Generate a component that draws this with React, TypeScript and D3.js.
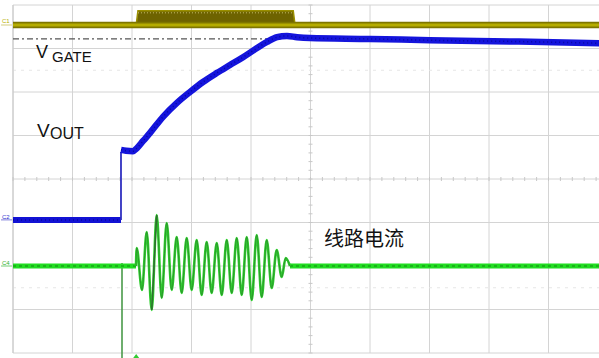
import React from 'react';
import * as d3 from 'd3';

const W = 599;
const H = 358;

// grid: 10 x 8 divisions (screen cut on the right)
const xDivs = [0, 1, 2, 3, 4, 5, 6, 7, 8, 9];
const yDivs = [-4, -3, -2, -1, 0, 1, 2, 3, 4];
const dottedLevels = [2.5, -2.5];

// C1 gate drive (divisions)
const c1Times = [0, 10];
const c1Level = [3.54, 3.54];
const burstTimes = [2.07, 2.1, 4.71, 4.74];
const burstTop = [3.54, 3.87, 3.87, 3.54];
const gateRefTimes = [0, 4.5];
const gateRefLevel = [3.22, 3.22];

// C2 VOUT
const voutBaseTimes = [0, 1.815];
const voutBaseLevel = [-0.94, -0.94];
const voutJumpTimes = [1.815, 1.815];
const voutJumpLevel = [-0.94, 0.62];
const voutRampTimes = [1.815, 1.9, 2.017, 2.084, 2.19, 2.303, 2.521, 2.756, 2.975, 3.193, 3.429, 3.647, 3.866, 4.101, 4.269, 4.437, 4.605, 4.773, 4.992, 6.0, 7.008, 8.5, 9.9];
const voutRampLevel = [0.67, 0.65, 0.64, 0.71, 0.88, 1.06, 1.43, 1.75, 2.0, 2.23, 2.44, 2.62, 2.8, 3.01, 3.15, 3.26, 3.29, 3.26, 3.24, 3.22, 3.19, 3.16, 3.12];

// C4 line current
const iBaseLeftTimes = [0, 2.067];
const iBaseRightTimes = [4.655, 10];
const iBaseLevel = [-2.0, -2.0];
const iOscTimes = [2.067, 2.079, 2.168, 2.247, 2.331, 2.415, 2.499, 2.583, 2.667, 2.751, 2.835, 2.919, 3.003, 3.087, 3.171, 3.255, 3.339, 3.424, 3.508, 3.592, 3.676, 3.76, 3.844, 3.928, 4.012, 4.096, 4.18, 4.264, 4.348, 4.432, 4.516, 4.583, 4.655];
const iOscLevel = [-2.0, -1.586, -2.552, -1.218, -3.011, -0.828, -2.736, -1.011, -2.552, -1.333, -2.621, -1.356, -2.552, -1.402, -2.667, -1.448, -2.621, -1.471, -2.667, -1.402, -2.621, -1.356, -2.667, -1.333, -2.782, -1.287, -2.713, -1.402, -2.506, -1.632, -2.253, -1.816, -2.0];
const iSpikeTimes = [1.832, 1.832];
const iSpikeLevel = [-1.93, -4.15];
const darkSpikeTimes = [2.331, 2.415];
const darkSpikeLevel = [-3.011, -0.828];

const x = d3.scaleLinear().domain([0, 10]).range([13, 608]);
const y = d3.scaleLinear().domain([-4, 4]).range([353, 5]);

const line = (ts: number[], vs: number[], curve: d3.CurveFactory = d3.curveLinear) =>
  d3.line<number>().x((_, i) => x(ts[i])).y((v) => y(v)).curve(curve)(vs) || '';

export default function App() {
  const burstArea =
    d3
      .area<number>()
      .x((_, i) => x(burstTimes[i]))
      .y0(y(3.54))
      .y1((v) => y(v))(burstTop) || '';

  const minorX = d3.range(0, 10.01, 0.2);
  const minorY = d3.range(-4, 4.01, 0.2);

  return (
    <div style={{ position: 'absolute', left: 0, top: 0 }}>
      <svg width={W} height={H} style={{ display: 'block', background: '#fff' }}>
        <rect x={0} y={0} width={W} height={H} fill="#fff" />
        {/* grid */}
        <g stroke="#d4d4d4" strokeWidth={1}>
          {xDivs.map((d) => (
            <line key={'gx' + d} x1={x(d)} x2={x(d)} y1={y(4)} y2={y(-4)} />
          ))}
          {yDivs.map((d) => (
            <line key={'gy' + d} x1={x(0)} x2={W} y1={y(d)} y2={y(d)} />
          ))}
        </g>
        <g stroke="#e6e6e6" strokeWidth={1} strokeDasharray="3 5">
          {dottedLevels.map((d) => (
            <line key={'dl' + d} x1={x(0)} x2={W} y1={y(d)} y2={y(d)} />
          ))}
        </g>
        <g stroke="#c8c8c8" strokeWidth={1}>
          {minorX.map((d, i) => (
            <line key={'mx' + i} x1={x(d)} x2={x(d)} y1={y(0) - 2} y2={y(0) + 2} />
          ))}
          {minorY.map((d, i) => (
            <line key={'my' + i} x1={x(5) - 2} x2={x(5) + 2} y1={y(d)} y2={y(d)} />
          ))}
        </g>
        <line x1={x(0)} x2={x(0)} y1={y(4)} y2={y(-4)} stroke="#c8c8c8" />

        {/* C1 gate */}
        <path d={burstArea} fill="#6e6300" stroke="#9a8f00" strokeWidth={1.5} />
        <path d={line([burstTimes[1], burstTimes[2]], [burstTop[1] - 0.05, burstTop[2] - 0.05])} stroke="#c9c070" strokeWidth={1} strokeDasharray="1 2" fill="none" />
        <path d={line(c1Times, c1Level)} stroke="#7e7600" strokeWidth={6.5} fill="none" />
        <path d={line(c1Times, c1Level)} stroke="#b5ac00" strokeWidth={3.2} fill="none" />

        {/* dash-dot reference */}
        <path d={line(gateRefTimes, gateRefLevel)} stroke="#555" strokeWidth={1.2} strokeDasharray="6 3 2 3" fill="none" />

        {/* VOUT */}
        <path d={line(voutBaseTimes, voutBaseLevel)} stroke="#1212d4" strokeWidth={6} fill="none" />
        <path d={line(voutJumpTimes, voutJumpLevel)} stroke="#3030c0" strokeWidth={1.8} fill="none" />
        <path d={line(voutRampTimes, voutRampLevel, d3.curveMonotoneX)} stroke="#1414dc" strokeWidth={6.5} fill="none" strokeLinejoin="round" />
        <path d={line(voutRampTimes, voutRampLevel, d3.curveMonotoneX)} stroke="#0808a0" strokeWidth={1.5} strokeDasharray="1 3" fill="none" />
        <path d={line(voutBaseTimes, voutBaseLevel)} stroke="#0808a0" strokeWidth={1.5} strokeDasharray="1 3" fill="none" />

        {/* line current */}
        <path d={line(iSpikeTimes, iSpikeLevel)} stroke="#4a9a4a" strokeWidth={1.6} fill="none" />
        <path d={line(iBaseLeftTimes, iBaseLevel)} stroke="#22dd22" strokeWidth={5} fill="none" />
        <path d={line(iBaseRightTimes, iBaseLevel)} stroke="#22dd22" strokeWidth={5} fill="none" />
        <path d={line(iBaseLeftTimes, iBaseLevel)} stroke="#138a13" strokeWidth={1} strokeDasharray="3 3" fill="none" />
        <path d={line(iBaseRightTimes, iBaseLevel)} stroke="#138a13" strokeWidth={1} strokeDasharray="3 3" fill="none" />
        <path d={line(iOscTimes, iOscLevel, d3.curveMonotoneX)} stroke="#2fd02f" strokeWidth={2.6} fill="none" />
        <path d={line(iOscTimes, iOscLevel, d3.curveMonotoneX)} stroke="#2b8a2b" strokeWidth={0.8} fill="none" />
        <path d={line(darkSpikeTimes, darkSpikeLevel)} stroke="#2f6f2f" strokeWidth={1.4} fill="none" />
        <path d={`M${x(2.07) - 3},${H} L${x(2.07)},${H - 4} L${x(2.07) + 3},${H} Z`} fill="#33cc33" />

        {/* channel markers */}
        <g fontFamily="Liberation Sans, Arial, sans-serif" fontSize={6}>
          <text x={2} y={y(3.54) - 2} fill="#b8b000">C1</text>
          <line x1={1} x2={12} y1={y(3.54)} y2={y(3.54)} stroke="#c8c060" strokeWidth={0.8} />
          <text x={2} y={y(-0.94) - 1} fill="#3030d0">C2</text>
          <line x1={1} x2={12} y1={y(-0.94)} y2={y(-0.94)} stroke="#6060d0" strokeWidth={0.8} />
          <text x={2} y={y(-2.0) - 1} fill="#30b030">C4</text>
          <line x1={1} x2={12} y1={y(-2.0)} y2={y(-2.0)} stroke="#50c050" strokeWidth={0.8} />
        </g>

        {/* labels */}
        <g fontFamily="Liberation Sans, Arial, sans-serif" fill="#111">
          <text x={36} y={58} fontSize={18}>V</text>
          <text x={52} y={62} fontSize={15}>GATE</text>
          <text x={37} y={137} fontSize={19}>V</text>
          <text x={50} y={139} fontSize={16}>OUT</text>
        </g>
        <text x={324} y={246} fontSize={20} fill="#111" fontFamily="Noto Sans CJK SC, sans-serif">线路电流</text>
      </svg>
    </div>
  );
}
